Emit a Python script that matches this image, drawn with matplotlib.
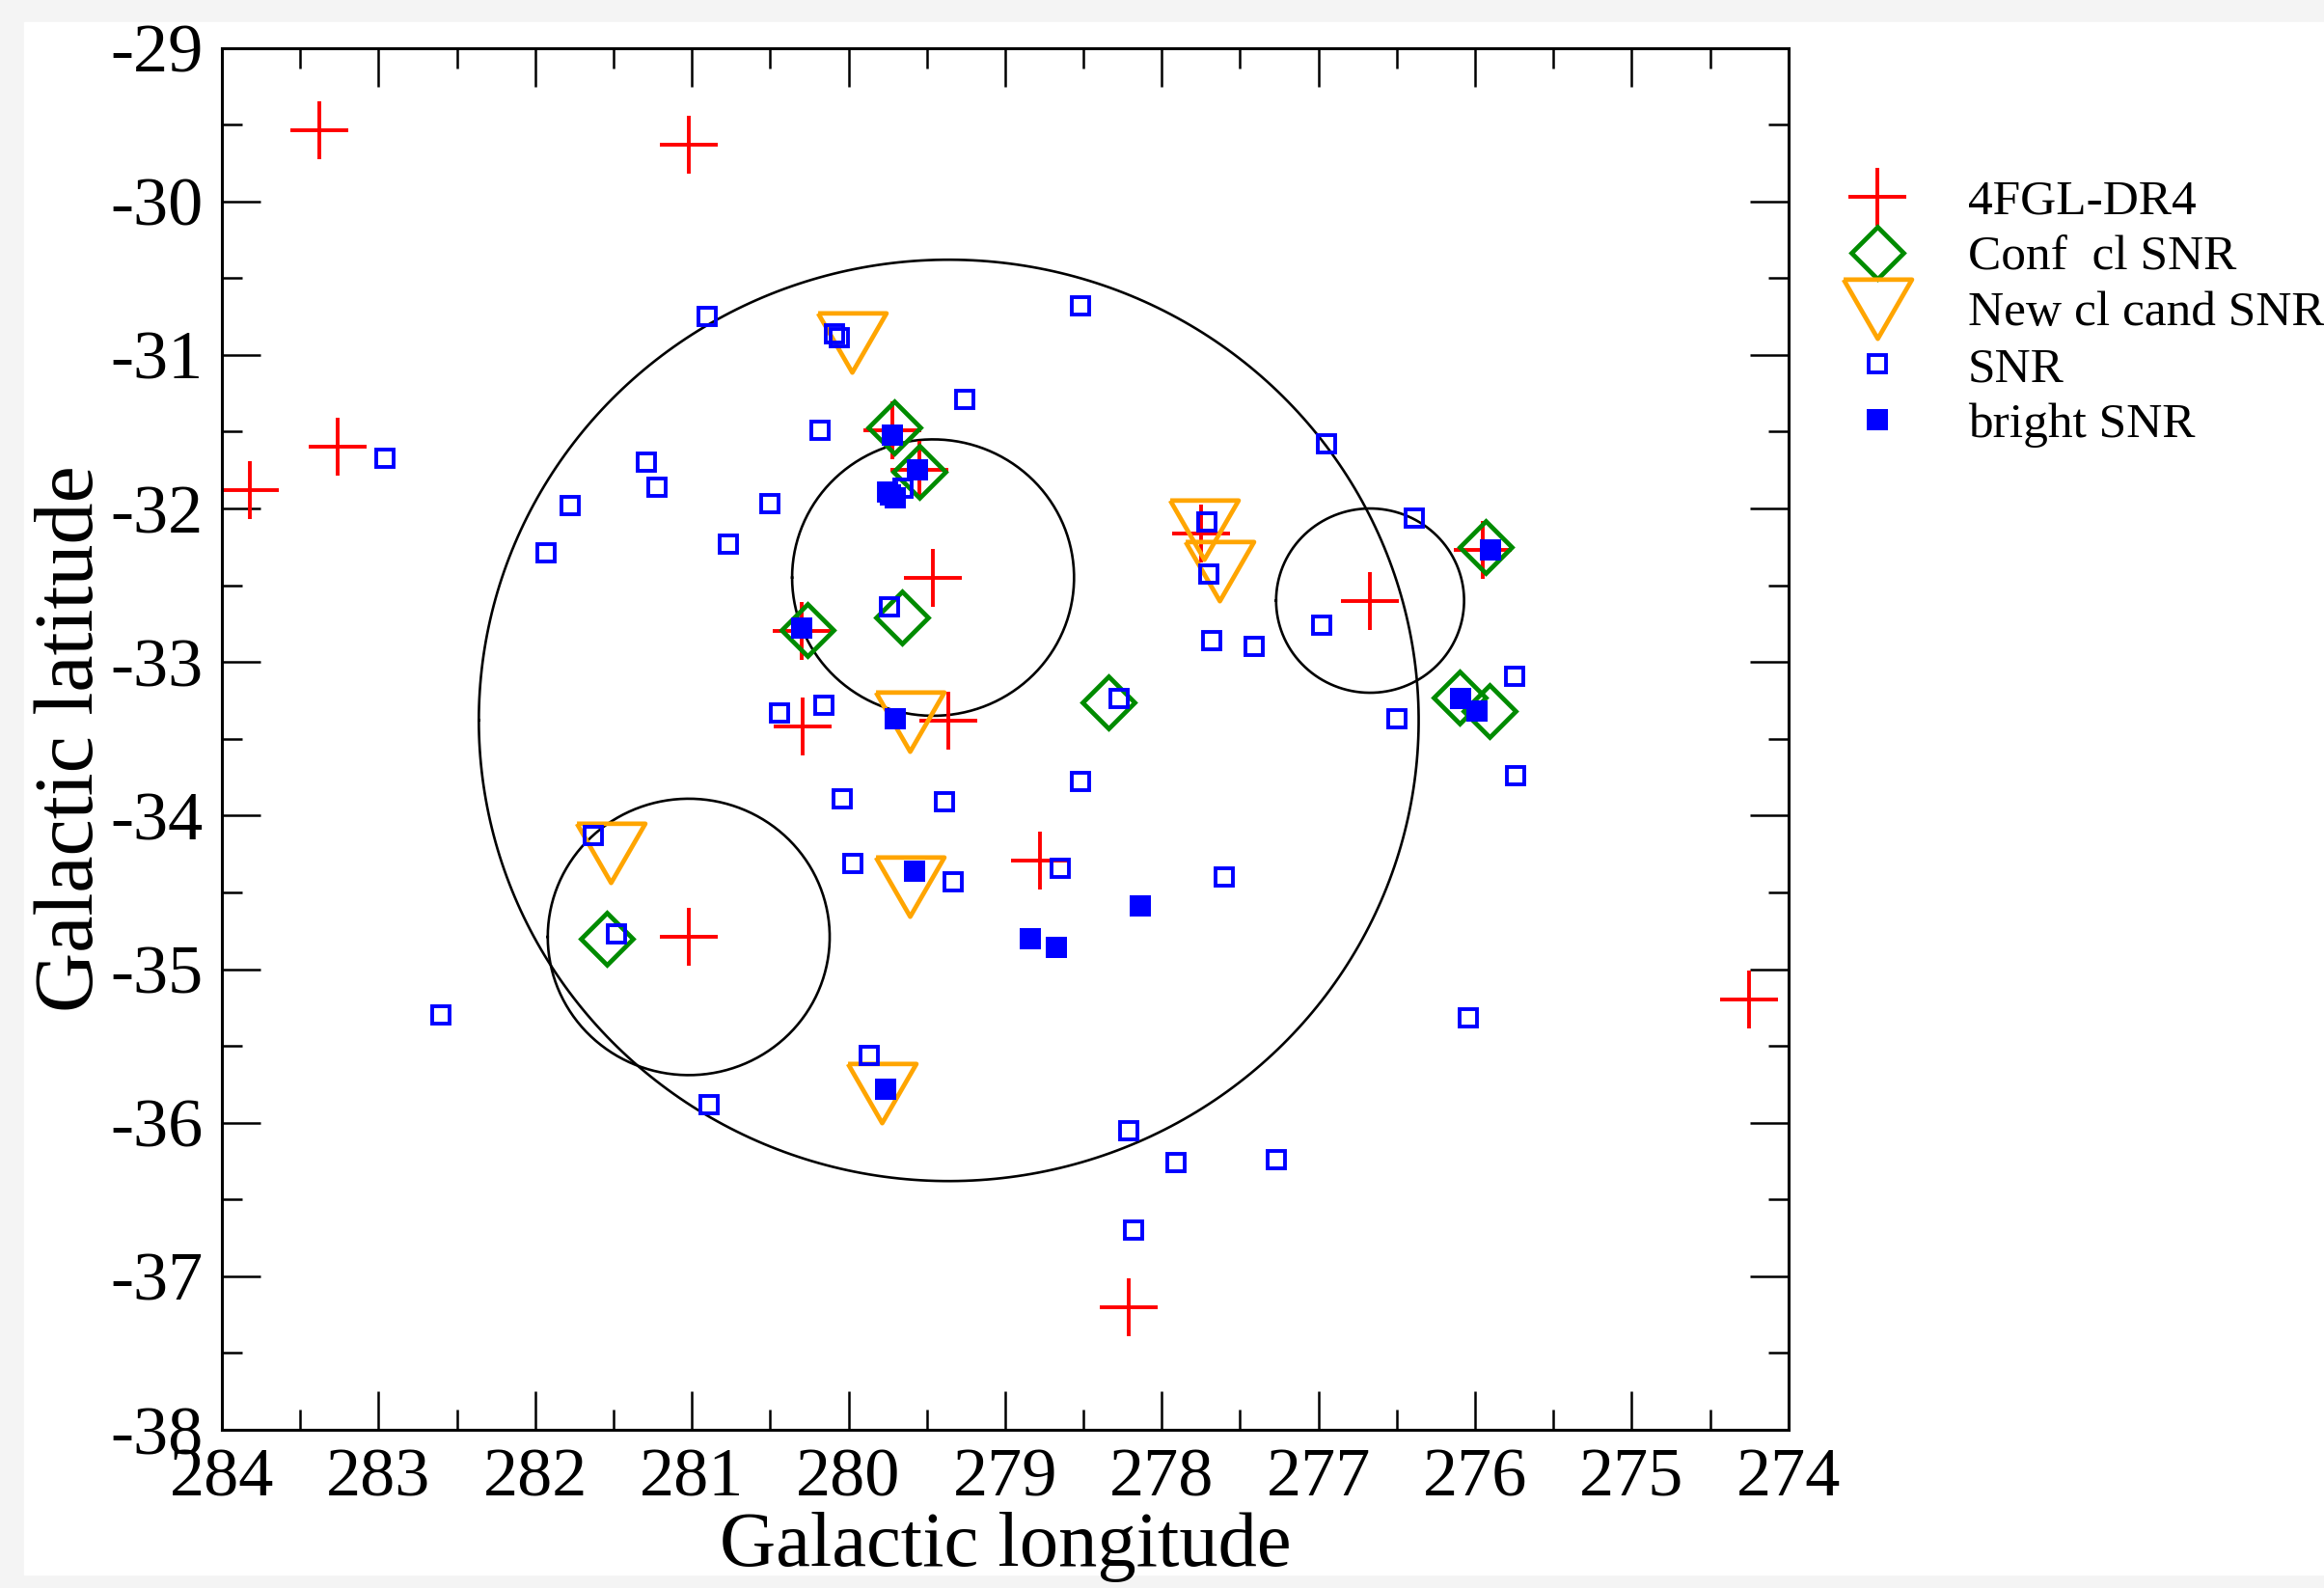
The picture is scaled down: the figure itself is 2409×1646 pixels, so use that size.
import numpy as np
import matplotlib.pyplot as plt
from matplotlib.patches import Rectangle

plt.rcParams['font.family'] = ['Liberation Serif', 'DejaVu Serif']
plt.rcParams['axes.unicode_minus'] = False

# 4FGL-DR4 sources (galactic l, b)
fgl_l = [283.38, 281.02, 283.26, 283.82, 279.46, 279.72, 279.55, 280.30, 280.29,
         279.36, 277.75, 276.67, 275.95, 278.78, 281.02, 278.21, 274.25]
fgl_b = [-29.54, -29.63, -31.60, -31.88, -32.45, -31.49, -31.75, -32.80, -33.42,
         -33.38, -32.16, -32.60, -32.27, -34.29, -34.79, -37.20, -35.20]

# confirmed cluster SNR
conf_l = [279.71, 279.55, 279.66, 280.26, 278.34, 275.93, 276.10, 275.91, 281.54]
conf_b = [-31.47, -31.76, -32.71, -32.79, -33.26, -32.25, -33.23, -33.32, -34.80]

# new cluster candidate SNR
cand_l = [279.98, 277.73, 277.63, 279.61, 281.52, 279.61, 279.79]
cand_b = [-30.92, -32.14, -32.41, -33.39, -34.24, -34.46, -35.81]

# SNR
snr_l = [280.90, 280.09, 280.06, 278.52, 279.26, 280.18, 282.96, 281.29, 281.22,
         281.78, 281.93, 280.77, 280.50, 279.65, 279.75, 279.74, 276.95, 276.39,
         277.71, 277.70, 277.68, 277.41, 276.98, 275.75, 276.50, 275.74, 277.60,
         276.04, 278.27, 280.44, 280.16, 280.04, 279.39, 278.52, 281.63, 279.97,
         279.33, 278.65, 281.48, 282.60, 279.87, 280.89, 278.21, 277.91, 277.27,
         278.18]
snr_b = [-30.75, -30.86, -30.89, -30.68, -31.29, -31.49, -31.67, -31.70, -31.86,
         -31.98, -32.29, -32.23, -31.97, -31.87, -31.89, -32.64, -31.58, -32.06,
         -32.09, -32.43, -32.86, -32.90, -32.76, -33.09, -33.37, -33.74, -34.40,
         -35.32, -33.24, -33.33, -33.28, -33.89, -33.91, -33.78, -34.13, -34.31,
         -34.43, -34.34, -34.77, -35.30, -35.56, -35.88, -36.05, -36.26, -36.24,
         -36.70]

# bright SNR
bright_l = [279.72, 279.56, 279.73, 279.70, 280.30, 279.70, 279.58, 278.84, 278.67,
            278.14, 279.76, 275.90, 276.09, 275.99]
bright_b = [-31.52, -31.75, -31.91, -31.93, -32.78, -33.37, -34.36, -34.80, -34.86,
            -34.59, -35.78, -32.27, -33.24, -33.32]

# circles: centre and radius (deg)
circ_l = [279.36, 279.46, 276.67, 281.02]
circ_b = [-33.38, -32.45, -32.60, -34.79]
circ_r = [3.0, 0.9, 0.6, 0.9]

fig = plt.figure(figsize=(24.09, 16.46), dpi=100, facecolor='#f4f4f4')
fig.patches.append(Rectangle((25 / 2409, 14 / 1646), 1, 1 - 37 / 1646,
                             transform=fig.transFigure, color='white', zorder=-10))
ax = fig.add_axes([0.0955, 0.0996, 0.674, 0.8703])

t = np.linspace(0, 2 * np.pi, 400)
for cl, cb, r in zip(circ_l, circ_b, circ_r):
    ax.plot(cl + r * np.cos(t), cb + r * np.sin(t), color='black', lw=1.9)

tri = [(-1, 0.866), (1, 0.866), (0, -0.866), (-1, 0.866)]

ax.plot(fgl_l, fgl_b, ls='none', marker='+', ms=43, mew=2.8, color='#ff0000',
        label='4FGL-DR4')
ax.plot(conf_l, conf_b, ls='none', marker='D', ms=27, mew=3.4, mec='#008b00',
        mfc='none', label='Conf  cl SNR')
ax.plot(cand_l, cand_b, ls='none', marker=tri, ms=51, mew=3.4, mec='#ffa500',
        mfc='none', label='New cl cand SNR')
ax.plot(snr_l, snr_b, ls='none', marker='s', ms=13, mew=2.8, mec='#0000ff',
        mfc='none', label='SNR')
ax.plot(bright_l, bright_b, ls='none', marker='s', ms=15.5, mew=0, mfc='#0000ff',
        label='bright SNR')

ax.set_xlim(284, 274)
ax.set_ylim(-38, -29)
ax.set_xticks(np.arange(274, 285, 1))
ax.set_xticks(np.arange(274, 284.1, 0.5), minor=True)
ax.set_yticks(np.arange(-38, -28.9, 1))
ax.set_yticks(np.arange(-38, -28.9, 0.5), minor=True)
ax.tick_params(which='both', direction='in', top=True, right=True, width=1.8)
ax.tick_params(which='major', length=29)
ax.tick_params(which='minor', length=15)
ax.tick_params(axis='x', labelsize=52, pad=13)
ax.tick_params(axis='y', labelsize=52, pad=14)
for s in ax.spines.values():
    s.set_linewidth(2.2)

ax.set_xlabel('Galactic longitude', fontsize=58)
ax.set_ylabel('Galactic latitude', fontsize=62)
ax.xaxis.set_label_coords(0.5, -0.0595)
ax.yaxis.set_label_coords(-0.071, 0.5)

ax.legend(loc='upper left', bbox_to_anchor=(0.7865, 0.887), bbox_transform=fig.transFigure,
          frameon=False, fontsize=37, numpoints=1, handlelength=2.0,
          handletextpad=0.83, labelspacing=0.21, borderpad=0, borderaxespad=0)

fig.savefig('out.png', dpi=100, facecolor=fig.get_facecolor())
